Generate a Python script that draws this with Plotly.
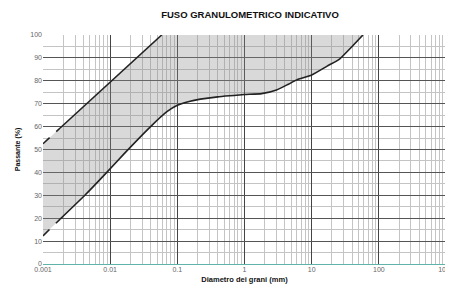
import plotly.graph_objects as go

# Upper limit of the band (dashed start, then solid)
upper_dash_x = [0.001, 0.0018]
upper_dash_y = [52.5, 59.4]
upper_x = [0.0018, 0.01, 0.0585]
upper_y = [59.4, 79.4, 100]

# Lower limit of the band
lower_dash_x = [0.001, 0.0018]
lower_dash_y = [12.3, 19.6]
lower_x = [0.0018, 0.0042, 0.0089, 0.0162, 0.04, 0.07, 0.1, 0.15, 0.22, 0.4, 0.7, 1.0, 1.8,
           3.0, 4.5, 6.0, 10.0, 17.0, 26.0, 40.0, 58.0]
lower_y = [19.6, 30, 40, 48.2, 60, 66.5, 69.3, 71, 72, 73, 73.6, 74, 74.4,
           76, 78.5, 80.4, 82.5, 86.4, 89.5, 95, 100]

x_ticks = [0.001, 0.01, 0.1, 1, 10, 100, 1000]
x_ticklabels = ["0.001", "0.01", "0.1", "1", "10", "100", "1000"]
y_ticks = list(range(0, 101, 10))

# fill polygon: lower curve up to 100, back along the upper curve
fx = lower_dash_x + lower_x + upper_x[::-1] + upper_dash_x[::-1]
fy = lower_dash_y + lower_y + upper_y[::-1] + upper_dash_y[::-1]

fig = go.Figure()
fig.add_trace(go.Scatter(x=fx, y=fy, fill="toself", fillcolor="rgba(140,140,140,0.33)",
                         line=dict(width=0), mode="lines", hoverinfo="skip", showlegend=False))
fig.add_trace(go.Scatter(x=upper_dash_x, y=upper_dash_y, mode="lines", showlegend=False,
                         line=dict(color="#222222", width=1.6, dash="dash")))
fig.add_trace(go.Scatter(x=upper_x, y=upper_y, mode="lines", showlegend=False,
                         line=dict(color="#222222", width=1.6)))
fig.add_trace(go.Scatter(x=lower_dash_x, y=lower_dash_y, mode="lines", showlegend=False,
                         line=dict(color="#222222", width=1.6, dash="dash")))
fig.add_trace(go.Scatter(x=lower_x, y=lower_y, mode="lines", showlegend=False,
                         line=dict(color="#222222", width=1.6, shape="spline", smoothing=0.5)))

# page body has an 8px default margin, so the figure is offset by 8px
fig.update_layout(
    width=453, height=279,
    margin=dict(l=35, r=15, t=27, b=23, autoexpand=False),
    paper_bgcolor="white", plot_bgcolor="white",
    font=dict(family="Liberation Sans, Arial", size=7, color="#555555"),
    title=dict(text="<b>FUSO GRANULOMETRICO INDICATIVO</b>", x=242/453, xanchor="center",
               y=1 - 7/279, yanchor="middle", font=dict(size=9.5, color="#111111")),
)
fig.update_xaxes(type="log", range=[-3, 3], tickvals=x_ticks, ticktext=x_ticklabels,
                 ticklabeloverflow="allow", automargin=False,
                 showgrid=True, gridcolor="#444444", gridwidth=1,
                 minor=dict(dtick="D1", showgrid=True, gridcolor="#c4c4c4", gridwidth=1, ticks=""),
                 showline=False, zeroline=False, ticks="",
                 title=dict(text="<b>Diametro dei grani (mm)</b>", font=dict(size=7.5, color="#111111"), standoff=4),
                 tickfont=dict(size=7, color="#666666"))
fig.update_yaxes(range=[0, 100], tickvals=y_ticks, showgrid=True, gridcolor="#555555", gridwidth=1,
                 minor=dict(dtick=5, showgrid=True, gridcolor="#c4c4c4", gridwidth=1, ticks=""),
                 zeroline=True, zerolinecolor="#5fb3a8", zerolinewidth=1.2,
                 showline=False, ticks="", automargin=False,
                 title=dict(text="<b>Passante (%)</b>", font=dict(size=7, color="#111111"), standoff=8),
                 tickfont=dict(size=7, color="#666666"))

fig.write_html("out.html")
